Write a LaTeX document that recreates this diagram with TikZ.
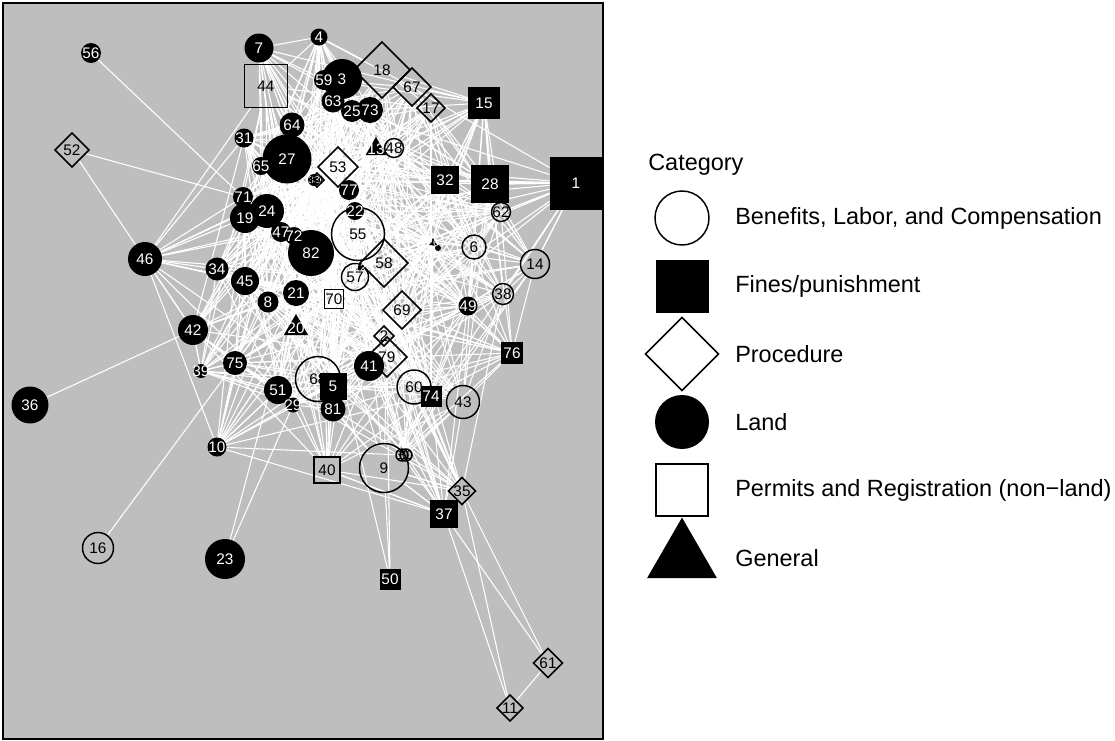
\documentclass[tikz,border=0pt]{standalone}
\usepackage{fontspec}
\setmainfont{Liberation Sans}
\usetikzlibrary{shapes.geometric}
\pgfdeclarelayer{bg}\pgfdeclarelayer{edges}\pgfdeclarelayer{labels}
\pgfsetlayers{bg,edges,main,labels}
\definecolor{panel}{HTML}{BEBEBE}
\tikzset{
 vtx/.style={inner sep=0pt, outer sep=0pt, line width=1.1pt},
 land/.style={vtx, circle, fill=black, minimum size=#1*1.5pt},
 bene/.style={vtx, circle, draw=black, minimum size=#1*1.5pt},
 fine/.style={vtx, rectangle, fill=black, minimum size=#1*0.75pt},
 perm/.style={vtx, rectangle, draw=black, minimum size=#1*0.75pt},
 proc/.style={vtx, diamond, draw=black, minimum size=#1*1.5pt},
 genl/.style={vtx, regular polygon, regular polygon sides=3, fill=black, minimum size=#1*1.5pt},
 wl/.style={text=white, font=\fontsize{11.5}{12}\selectfont, inner sep=0pt},
 bl/.style={text=black, font=\fontsize{11.5}{12}\selectfont, inner sep=0pt},
 wls/.style={text=white, font=\fontsize{7.5}{8}\selectfont, inner sep=0pt},
 bls/.style={text=black, font=\fontsize{9}{10}\selectfont, inner sep=0pt},
 edge/.style={draw=white, line width=0.8pt},
 legtext/.style={anchor=west, inner sep=0pt, font=\fontsize{17.6}{20}\selectfont},
}
\newcommand\V[7]{\node[#4=#5] (v#1) at (#2,#3) {};%
 \begin{pgfonlayer}{labels}\node[#6] (l#1) at (v#1.center) {#7};\end{pgfonlayer}}
\def\meshlist{3,59,63,25,73,4,7,44,18,67,17,15,64,31,27,65,13,48,53,33,54,77,71,19,24,47,72,82,22,55,58,57,12,34,45,8,21,70,69,20,2,79,41,68,5,81,51,29,60,74,43,9,40,30,80,35,37,26,6,49,38,32,28,62,76,14,1,42,75,39,10,46}
\begin{document}
\begin{tikzpicture}[x=0.75pt,y=-0.75pt]
\useasboundingbox (0,0) rectangle (1115,740);
\begin{pgfonlayer}{bg}
\fill[panel] (3,3) rectangle (603,739);
\end{pgfonlayer}
\V{1}{576}{183}{fine}{53}{wl}{1}
\V{2}{384}{336}{proc}{10}{bl}{2}
\V{3}{342}{79}{land}{20}{wl}{3}
\V{4}{319}{37}{land}{8.5}{wl}{4}
\V{5}{333}{386}{fine}{27}{wl}{5}
\V{6}{474}{247}{bene}{12}{bl}{6}
\V{7}{259}{48}{land}{14.5}{wl}{7}
\V{8}{268}{302}{land}{10.5}{wl}{8}
\V{9}{384}{468}{bene}{24.5}{bl}{9}
\V{10}{217}{447}{land}{9.5}{wl}{10}
\V{11}{510}{708}{proc}{13}{bl}{11}
\V{12}{360}{268}{genl}{5}{wls}{12}
\V{13}{376}{149}{genl}{12}{wl}{13}
\V{14}{535}{264}{bene}{14.5}{bl}{14}
\V{15}{484}{103}{fine}{32}{wl}{15}
\V{16}{98}{548}{bene}{15.5}{bl}{16}
\V{17}{431}{108}{proc}{14}{bl}{17}
\V{18}{382}{70}{proc}{28}{bl}{18}
\V{19}{245}{218}{land}{15}{wl}{19}
\V{20}{296}{328}{genl}{14}{wl}{20}
\V{21}{296}{293}{land}{13}{wl}{21}
\V{22}{355}{211}{land}{9}{wl}{22}
\V{23}{225}{559}{land}{20}{wl}{23}
\V{24}{267}{211}{land}{17}{wl}{24}
\V{25}{352}{111}{land}{11}{wl}{25}
\V{26}{433}{243}{genl}{5}{wls}{26}
\V{27}{287}{159}{land}{24.5}{wl}{27}
\V{28}{490}{184}{fine}{38}{wl}{28}
\V{29}{293}{405}{land}{7.5}{wl}{29}
\V{30}{402}{455}{bene}{6}{bls}{30}
\V{31}{244}{138}{land}{9.5}{wl}{31}
\V{32}{445}{180}{fine}{28}{wl}{32}
\V{33}{314}{180}{land}{6}{wls}{33}
\V{34}{217}{269}{land}{11.5}{wl}{34}
\V{35}{462}{491}{proc}{13.5}{bl}{35}
\V{36}{30}{405}{land}{18.5}{wl}{36}
\V{37}{444}{514}{fine}{28}{wl}{37}
\V{38}{503}{294}{bene}{10.5}{bl}{38}
\V{39}{201}{371}{land}{7}{wl}{39}
\V{40}{327}{470}{perm}{26}{bl}{40}
\V{41}{369}{366}{land}{15}{wl}{41}
\V{42}{193}{330}{land}{15}{wl}{42}
\V{43}{463}{402}{bene}{16.5}{bl}{43}
\V{44}{266}{86}{perm}{43}{bl}{44}
\V{45}{245}{281}{land}{14}{wl}{45}
\V{46}{145}{259}{land}{17}{wl}{46}
\V{47}{281}{232}{land}{10}{wl}{47}
\V{48}{394}{148}{bene}{9.5}{bl}{48}
\V{49}{468}{306}{land}{9.5}{wl}{49}
\V{50}{390}{579}{fine}{21}{wl}{50}
\V{51}{278}{390}{land}{14}{wl}{51}
\V{52}{72}{150}{proc}{17}{bl}{52}
\V{53}{338}{167}{proc}{20}{bl}{53}
\V{54}{317}{180}{proc}{7}{bls}{54}
\V{55}{358}{234}{bene}{26.5}{bl}{55}
\V{56}{91}{53}{land}{10}{wl}{56}
\V{57}{355}{277}{bene}{13.5}{bl}{57}
\V{58}{384}{263}{proc}{24}{bl}{58}
\V{59}{324}{80}{land}{10}{wl}{59}
\V{60}{414}{387}{bene}{17}{bl}{60}
\V{61}{548}{663}{proc}{14.5}{bl}{61}
\V{62}{501}{212}{bene}{9.5}{bl}{62}
\V{63}{333}{101}{land}{11.5}{wl}{63}
\V{64}{292}{125}{land}{12.5}{wl}{64}
\V{65}{261}{166}{land}{9}{wl}{65}
\V{67}{412}{87}{proc}{19}{bl}{67}
\V{68}{318}{379}{bene}{22.5}{bl}{68}
\V{69}{402}{310}{proc}{19}{bl}{69}
\V{70}{334}{299}{perm}{19}{bl}{70}
\V{71}{243}{197}{land}{10}{wl}{71}
\V{72}{294}{236}{land}{9}{wl}{72}
\V{73}{370}{110}{land}{13}{wl}{73}
\V{74}{431}{396}{fine}{21}{wl}{74}
\V{75}{235}{363}{land}{12}{wl}{75}
\V{76}{512}{353}{fine}{22}{wl}{76}
\V{77}{349}{190}{land}{10}{wl}{77}
\node[land=3] (v78) at (438,248) {};
\V{79}{387}{357}{proc}{20}{bl}{79}
\V{80}{406}{455}{bene}{6}{bls}{80}
\V{81}{333}{409}{land}{12.5}{wl}{81}
\V{82}{311}{253}{land}{23}{wl}{82}
% edges
\begin{pgfonlayer}{edges}
\foreach \a [count=\i] in \meshlist {
  \foreach \b [count=\j] in \meshlist {
    \ifnum\j>\i\relax
      \pgfpointanchor{v\a}{center}\pgfgetlastxy\xa\ya
      \pgfpointanchor{v\b}{center}\pgfgetlastxy\xb\yb
      \pgfmathtruncatemacro\hh{mod(\i*97+\j*61+mod(\i*\j,89)*37,100)}
      \pgfmathtruncatemacro\pp{76*exp(-veclen(\xa-\xb,\ya-\yb)/150)}
      \ifnum\hh<\pp\relax \draw[edge] (v\a) -- (v\b);\fi
    \fi
  }
}
\foreach \a/\b in {56/71,52/71,52/46,36/42,16/75,23/21,23/29,50/82,50/9,50/79,37/11,35/11,37/61,35/61,61/11,9/37,9/35,40/37,46/19,46/34,46/45,46/42,42/39,42/75,10/75,10/51,1/28,1/62,1/14,14/76,15/28,15/32,7/4,7/44,4/3,4/59,4/18}
  \draw[edge] (v\a) -- (v\b);
\end{pgfonlayer}
% legend
\node[legtext] (cat) at (648,165) {Category};
\node[bene=27] (k1) at (682,218) {};
\node[fine=53] (k2) at (682,286) {};
\node[proc=36.5] (k3) at (682,354) {};
\node[land=27] (k4) at (682,422) {};
\node[perm=52] (k5) at (682,490) {};
\node[genl=40.4] (k6) at (682,558) {};
\node[legtext] (t1) at (735,218) {Benefits, Labor, and Compensation};
\node[legtext] (t2) at (735,286) {Fines/punishment};
\node[legtext] (t3) at (735,354) {Procedure};
\node[legtext] (t4) at (735,422) {Land};
\node[legtext] (t5) at (735,490) {Permits and Registration (non\textminus land)};
\node[legtext] (t6) at (735,558) {General};
\begin{pgfonlayer}{labels}
\draw[line width=1.5pt] (3,3) rectangle (603,739);
\end{pgfonlayer}
\end{tikzpicture}
\end{document}
